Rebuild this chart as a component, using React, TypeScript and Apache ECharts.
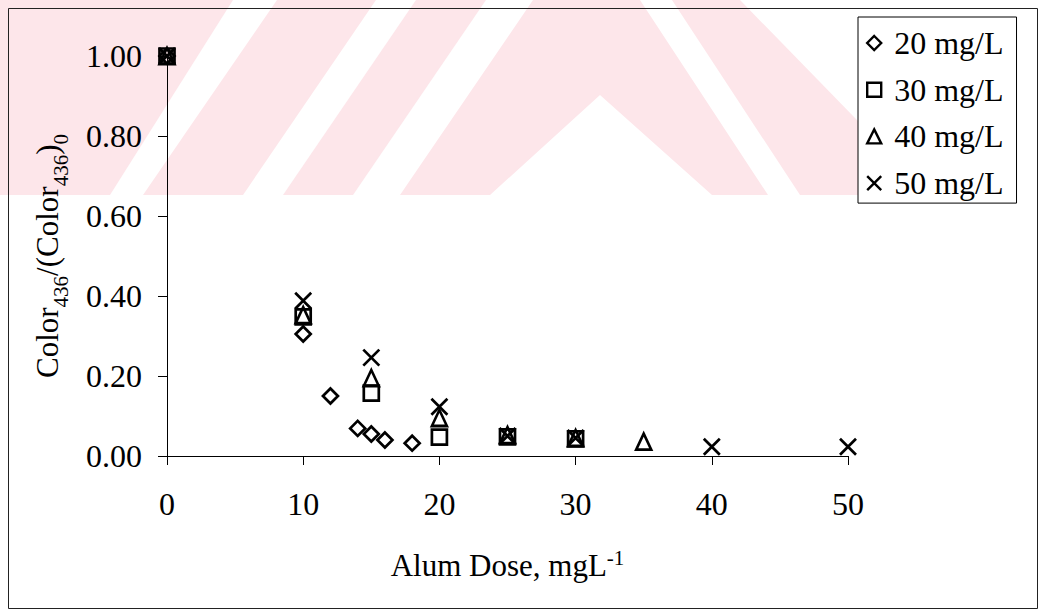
import React, { useEffect, useRef } from "react";
import * as echarts from "echarts";

// Alum dose (mg/L) and normalised colour Color436/(Color436)0 for each initial dye concentration
const seriesNames = ["20 mg/L", "30 mg/L", "40 mg/L", "50 mg/L"];

const dose20 = [0, 10, 12, 14, 15, 16, 18];
const ratio20 = [1.0, 0.305, 0.15, 0.069, 0.055, 0.04, 0.032];

const dose30 = [0, 10, 15, 20, 25, 30];
const ratio30 = [1.0, 0.348, 0.157, 0.047, 0.048, 0.043];

const dose40 = [0, 10, 15, 20, 25, 30, 35];
const ratio40 = [1.0, 0.352, 0.195, 0.095, 0.052, 0.045, 0.036];

const dose50 = [0, 10, 15, 20, 25, 30, 40, 50];
const ratio50 = [1.0, 0.388, 0.246, 0.123, 0.05, 0.045, 0.023, 0.023];

const xTicks = { min: 0, max: 50, step: 10 };
const yTicks = { min: 0, max: 1, step: 0.2 };

const FONT = "'Liberation Serif', 'Times New Roman', serif";
const CROSS = "path://M0,0L20,20M20,0L0,20";
const PINK = "#fde6ea";

const pairs = (xs: number[], ys: number[]) => xs.map((x, i) => [x, ys[i]]);

// Light background emblem behind the upper part of the plot
const emblem: number[][][] = [
  [[0, 0], [233, 0], [110, 195], [0, 195]],
  [[143, 195], [277, 0], [376, 0], [243, 195]],
  [[283, 195], [416, 0], [486, 0], [353, 195]],
  [[400, 195], [533, 0], [640, 0], [768, 195], [712, 195], [600, 95], [490, 195]],
  [[672, 0], [740, 0], [930, 195], [800, 195]],
];

const hollow = { color: "rgba(0,0,0,0)", borderColor: "#000", borderWidth: 2.7, opacity: 1 };

export default function App() {
  const ref = useRef<HTMLDivElement>(null);

  useEffect(() => {
    if (!ref.current) return;
    const chart = echarts.init(ref.current, undefined, { renderer: "svg" });

    const marker = (name: string, symbol: string, size: number | number[], data: number[][]) => ({
      name,
      type: "scatter",
      symbol,
      symbolSize: size,
      data,
      itemStyle: hollow,
      emphasis: { disabled: true },
    });

    const legendIcons = ["diamond", "rect", "triangle", CROSS];

    chart.setOption({
      animation: false,
      backgroundColor: "#fff",
      textStyle: { fontFamily: FONT, color: "#000" },
      graphic: [
        ...emblem.map((pts) => ({
          type: "polygon",
          z: -10,
          silent: true,
          shape: { points: pts },
          style: { fill: PINK },
        })),
        {
          type: "rect",
          z: 100,
          silent: true,
          shape: { x: 8.5, y: 8.5, width: 1029, height: 600 },
          style: { fill: "none", stroke: "#222", lineWidth: 1 },
        },
      ],
      grid: { left: 167, right: 193, top: 56, bottom: 155, containLabel: false },
      legend: {
        orient: "vertical",
        left: 858,
        top: 17,
        padding: [10, 13, 4, 8],
        itemGap: 14.7,
        itemWidth: 14,
        itemHeight: 14,
        borderColor: "#000",
        borderWidth: 1,
        backgroundColor: "#fff",
        selectedMode: false,
        formatter: (name: string) => `{t|${name}}`,
        textStyle: {
          fontFamily: FONT,
          fontSize: 32,
          lineHeight: 32,
          color: "#000",
          rich: { t: { fontFamily: FONT, fontSize: 32, lineHeight: 32, color: "#000", padding: [0, 0, 0, 8] } },
        },
        data: seriesNames.map((name, i) => ({
          name,
          icon: legendIcons[i],
          itemStyle: { ...hollow, borderWidth: 2.4 },
        })),
      },
      xAxis: {
        type: "value",
        min: xTicks.min,
        max: xTicks.max,
        interval: xTicks.step,
        splitLine: { show: false },
        axisLine: { lineStyle: { color: "#000", width: 1 } },
        axisTick: { length: 9, lineStyle: { color: "#000" } },
        axisLabel: { fontFamily: FONT, fontSize: 32, lineHeight: 32, color: "#000", margin: 32 },
        name: "{a|Alum Dose, mgL}{p|-1}",
        nameLocation: "middle",
        nameGap: 92,
        nameTextStyle: {
          fontFamily: FONT,
          color: "#000",
          rich: {
            a: { fontFamily: FONT, fontSize: 31, lineHeight: 34, color: "#000" },
            p: { fontFamily: FONT, fontSize: 21, height: 20, verticalAlign: "top", color: "#000" },
          },
        },
      },
      yAxis: {
        type: "value",
        min: yTicks.min,
        max: yTicks.max,
        interval: yTicks.step,
        splitLine: { show: false },
        axisLine: { lineStyle: { color: "#000", width: 1 } },
        axisTick: { length: 9, lineStyle: { color: "#000" } },
        axisLabel: {
          fontFamily: FONT,
          fontSize: 32,
          color: "#000",
          margin: 25,
          formatter: (v: number) => v.toFixed(2),
        },
        name: "{a|Color}{s|436}{a|/(Color}{s|436}{a|)}{s|0}",
        nameLocation: "middle",
        nameRotate: 90,
        nameGap: 103,
        nameTextStyle: {
          fontFamily: FONT,
          color: "#000",
          rich: {
            a: { fontFamily: FONT, fontSize: 31, lineHeight: 34, color: "#000" },
            s: { fontFamily: FONT, fontSize: 21, height: 7, verticalAlign: "bottom", color: "#000" },
          },
        },
      },
      series: [
        marker(seriesNames[0], "diamond", 15, pairs(dose20, ratio20)),
        marker(seriesNames[1], "rect", 15, pairs(dose30, ratio30)),
        marker(seriesNames[2], "triangle", [15, 16], pairs(dose40, ratio40)),
        marker(seriesNames[3], CROSS, 16, pairs(dose50, ratio50)),
      ],
    });

    return () => chart.dispose();
  }, []);

  return (
    <div
      ref={ref}
      style={{ position: "absolute", left: 0, top: 0, width: 1041, height: 611, background: "#fff" }}
    />
  );
}
